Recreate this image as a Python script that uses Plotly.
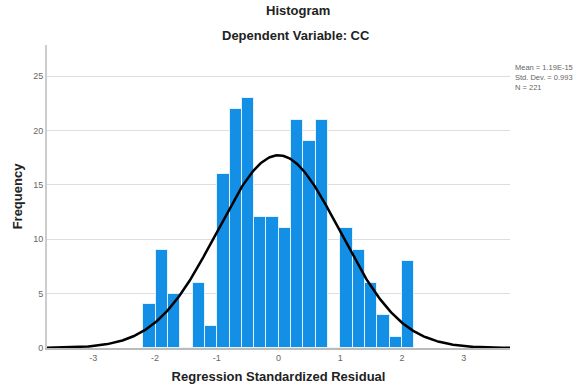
import numpy as np
import plotly.graph_objects as go

# Histogram data
bin_start = -2.19
bin_width = 0.1995
counts = [4, 9, 5, 0, 6, 2, 16, 22, 23, 12, 12, 11, 21, 19, 21, 0, 11, 9, 6, 3, 1, 8]
mean = 1.19e-15
sd = 0.993
n = 221
x_ticks = [-3, -2, -1, 0, 1, 2, 3]
y_ticks = [0, 5, 10, 15, 20, 25]
legend_lines = ["Mean = 1.19E-15", "Std. Dev. = 0.993", "N = 221"]

centers = [bin_start + bin_width * (i + 0.5) for i in range(len(counts))]

xs = np.linspace(-3.75, 3.75, 400)
ys = n * bin_width / (sd * np.sqrt(2 * np.pi)) * np.exp(-0.5 * ((xs - mean) / sd) ** 2)

fig = go.Figure()
fig.add_trace(go.Bar(
    x=centers, y=counts, width=bin_width,
    marker=dict(color="rgb(20,143,230)", line=dict(color="rgba(235,245,255,0.9)", width=1)),
    hoverinfo="skip",
))
fig.add_trace(go.Scatter(x=xs, y=ys, mode="lines", line=dict(color="black", width=2.5), hoverinfo="skip"))

L, R, T, B = 47, 74, 45, 44
W, H = 584, 392
pw, ph = W - L - R, H - T - B

fig.update_layout(
    width=W, height=H,
    margin=dict(l=L, r=R, t=T, b=B, autoexpand=False),
    paper_bgcolor="white", plot_bgcolor="white",
    showlegend=False,
    bargap=0,
    font=dict(family="Liberation Sans, Arial, sans-serif", color="#222"),
)
fig.update_xaxes(
    automargin=False,
    range=[-3.75, 3.75], tickvals=x_ticks, ticktext=[str(v) for v in x_ticks],
    showgrid=False, zeroline=False, showline=True, linecolor="#bbbbbb", linewidth=1.5,
    tickfont=dict(size=9, color="#666"), ticks="",
    title=dict(text="<b>Regression Standardized Residual</b>", font=dict(size=13, color="#222"), standoff=10),
)
fig.update_yaxes(
    automargin=False,
    range=[0, 27.85], tickvals=y_ticks, ticktext=[str(v) for v in y_ticks],
    showgrid=True, gridcolor="#dddddd", gridwidth=1, zeroline=False,
    showline=True, linecolor="#cccccc", linewidth=2,
    tickfont=dict(size=9, color="#666"), ticks="",
    title=dict(text="<b>Frequency</b>", font=dict(size=13, color="#222"), standoff=8),
)

def px_to_paper(x, y):
    return (x - L) / pw, (H - B - y) / ph

hx, hy = px_to_paper(298, 11)
fig.add_annotation(text="<b>Histogram</b>", xref="paper", yref="paper", x=hx, y=hy,
                   showarrow=False, font=dict(size=13, color="#222"),
                   xanchor="center", yanchor="middle")
dx, dy = px_to_paper(296, 35)
fig.add_annotation(text="<b>Dependent Variable: CC</b>", xref="paper", yref="paper", x=dx, y=dy,
                   showarrow=False, font=dict(size=13, color="#222"),
                   xanchor="center", yanchor="middle")
lx, ly = px_to_paper(514, 62)
fig.add_annotation(text="<br>".join(legend_lines), xref="paper", yref="paper", x=lx, y=ly,
                   showarrow=False, align="left", font=dict(size=7.5, color="#666"),
                   xanchor="left", yanchor="top", borderpad=0)

fig.write_html("out.html")
